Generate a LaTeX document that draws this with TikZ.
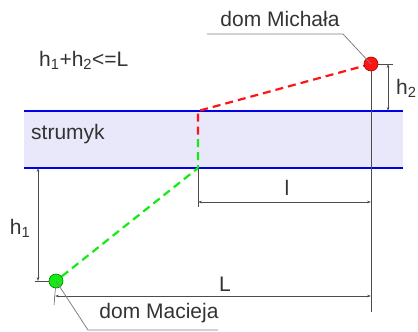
\documentclass[tikz,border=0pt]{standalone}
\usepackage{fontspec}
\setmainfont{Liberation Sans}
\usetikzlibrary{arrows.meta,positioning}

\definecolor{strip}{RGB}{232,232,250}
\definecolor{bank}{RGB}{0,0,230}
\definecolor{redpath}{RGB}{255,20,20}
\definecolor{greenpath}{RGB}{20,235,20}

\begin{document}
\begin{tikzpicture}[x=1pt, y=-1pt,
    every node/.style={font=\fontsize{21}{25}\selectfont, text=black!80, inner sep=0pt},
    dimline/.style={black!70, line width=0.5pt, {Stealth[length=4pt,width=2.6pt]}-{Stealth[length=4pt,width=2.6pt]}},
    extline/.style={black!70, line width=0.5pt},
    leader/.style={black!50, line width=0.8pt},
    route/.style={line width=2.2pt, dash pattern=on 8pt off 5pt},
    house/.style={circle, draw, line width=0.6pt, minimum size=14pt}]
  \useasboundingbox (0,0) rectangle (418,332);

  % strumyk
  \fill[strip] (24,111) rectangle (403,168);
  \draw[bank, line width=2pt] (24,111) -- (403,111);
  \draw[bank, line width=2pt] (24,168) -- (403,168);
  \node[anchor=west] (stream) at (31,134) {strumyk};

  % punkty
  \coordinate (michal) at (371,64);
  \coordinate (maciej) at (56,281);
  \coordinate (ptop) at (198,111);
  \coordinate (pmid) at (198,139);
  \coordinate (pbot) at (198,168);

  % trasy
  \draw[route, redpath] (michal) -- (ptop) -- (pmid);
  \draw[route, greenpath] (pmid) -- (pbot) -- (maciej);

  % linie pomocnicze
  \coordinate (mdown) at (371,312);
  \draw[extline] (michal) -- (mdown);
  \coordinate (h2ext) at (393,64);
  \draw[extline] (michal) -- (h2ext);
  \coordinate (lext) at (198,207);
  \draw[extline] (pbot) -- (lext);
  \coordinate (Lext) at (54,305);
  \draw[extline] (maciej) -- (Lext);
  \coordinate (h1ext) at (35,281);
  \draw[extline] (h1ext) -- (maciej);

  % wymiary
  \coordinate (h2a) at (388,64);
  \coordinate (h2b) at (388,111);
  \draw[dimline] (h2a) -- (h2b);
  \node[anchor=west] (h2lab) at (396,88) {h\textsubscript{2}};
  \coordinate (la) at (198,202);
  \coordinate (lb) at (371,202);
  \draw[dimline] (la) -- (lb);
  \node (llab) at (287,188) {l};
  \coordinate (La) at (55,296);
  \coordinate (Lb) at (371,296);
  \draw[dimline] (La) -- (Lb);
  \node (Llab) at (225,284) {L};
  \coordinate (h1a) at (38,168);
  \coordinate (h1b) at (38,281);
  \draw[dimline] (h1a) -- (h1b);
  \node (h1lab) at (20,228) {h\textsubscript{1}};

  % domy
  \node[house, fill=redpath, draw=red!70!black] (mdot) at (michal) {};
  \node[house, fill=greenpath, draw=green!50!black] (jdot) at (maciej) {};

  % opisy
  \node (mname) at (280,19) {dom Michała};
  \coordinate (mla) at (207,34);
  \coordinate (mlb) at (343,34);
  \draw[leader] (mla) -- (mlb) -- (michal);
  \node (jname) at (159,313) {dom Macieja};
  \coordinate (jla) at (88,330);
  \coordinate (jlb) at (218,330);
  \draw[leader] (maciej) -- (jla) -- (jlb);

  \node[anchor=west] (rule) at (39,60) {h\textsubscript{1}+h\textsubscript{2}<=L};
\end{tikzpicture}
\end{document}
